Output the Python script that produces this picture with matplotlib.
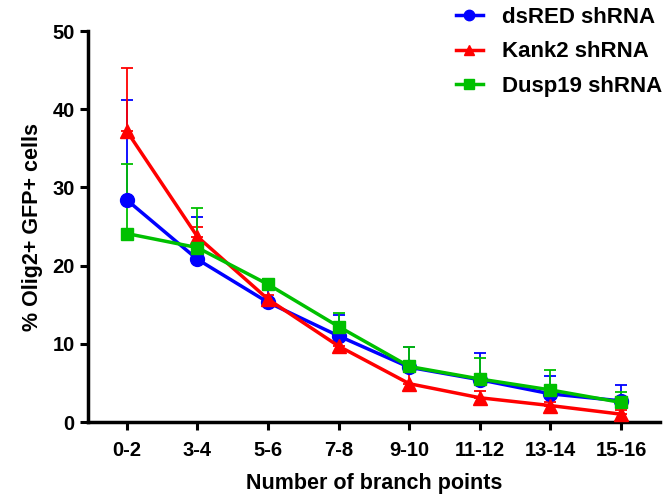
import numpy as np
import matplotlib.pyplot as plt

plt.rcParams['font.family'] = ['Liberation Sans', 'DejaVu Sans']
plt.rcParams['font.weight'] = 'bold'

# bins of branch points
categories = ["0-2", "3-4", "5-6", "7-8", "9-10", "11-12", "13-14", "15-16"]

# mean values and upper error bars (SEM)
dsred = [28.4, 20.8, 15.3, 11.0, 7.0, 5.4, 3.6, 2.7]
dsred_err = [12.8, 5.4, 3.0, 2.7, 2.6, 3.4, 2.3, 2.0]

kank2 = [37.2, 23.7, 15.7, 9.7, 4.9, 3.1, 2.1, 1.0]
kank2_err = [8.1, 1.3, 0.6, 2.3, 1.5, 0.9, 0.5, 0.5]

dusp19 = [24.1, 22.3, 17.6, 12.2, 7.1, 5.5, 4.1, 2.5]
dusp19_err = [8.9, 5.1, 0.7, 1.8, 2.5, 2.7, 2.5, 1.3]

x = np.arange(len(categories))

fig = plt.figure(figsize=(6.7, 4.97), dpi=100)
ax = fig.add_axes([0.1313, 0.1509, 0.8537, 0.7867])

series = [
    (dsred, dsred_err, "dsRED shRNA", "#0000ff", "o", 10),
    (kank2, kank2_err, "Kank2 shRNA", "#ff0000", "^", 10),
    (dusp19, dusp19_err, "Dusp19 shRNA", "#00c000", "s", 9),
]

handles = []
for vals, err, label, col, mk, ms in series:
    ax.errorbar(x, vals, yerr=[np.zeros(len(err)), err], fmt="none",
                ecolor=col, elinewidth=1.3, capsize=4.5, capthick=1.3, zorder=2)
    h, = ax.plot(x, vals, color=col, lw=2.5, marker=mk, ms=ms, label=label, zorder=3)
    handles.append(h)

ax.set_xlim(-0.55, 7.55)
ax.set_ylim(0, 50)
ax.set_yticks([0, 10, 20, 30, 40, 50])
ax.set_xticks(x)
ax.set_xticklabels(categories)

for side in ["top", "right"]:
    ax.spines[side].set_visible(False)
for side in ["left", "bottom"]:
    ax.spines[side].set_linewidth(2.5)

ax.tick_params(axis="both", direction="out", length=6, width=2.2, labelsize=14.5)
ax.tick_params(axis="x", pad=8)

ax.set_xlabel("Number of branch points", fontsize=15.5, fontweight="bold", labelpad=9)
ax.set_ylabel("% Olig2+ GFP+ cells", fontsize=15.5, fontweight="bold", labelpad=7)

fig.legend(handles=handles, loc="upper left", bbox_to_anchor=(0.650, 1.027),
           frameon=False, fontsize=16, handlelength=1.25, labelspacing=0.62,
           handletextpad=0.85, markerscale=0.75)

fig.savefig("out.png", dpi=100)
